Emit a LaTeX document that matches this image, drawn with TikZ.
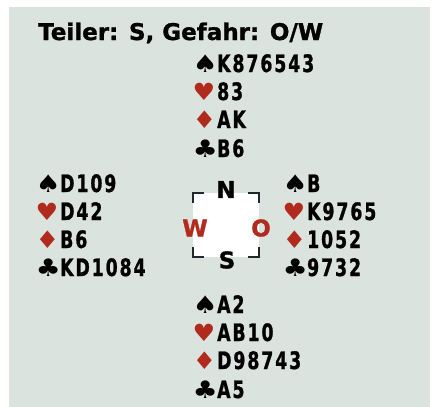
\documentclass[tikz,border=0pt]{standalone}
\usepackage{fontspec}
\setmainfont{DejaVu Sans}[BoldFeatures={FakeBold=1.2}]
\newfontfamily\cardfont{DejaVu Sans Condensed}[FakeStretch=0.8, LetterSpace=8, BoldFeatures={FakeBold=1.0}]
\newfontfamily\suitfont{DejaVu Sans}
\definecolor{bgcol}{RGB}{219,227,223}
\definecolor{suitred}{RGB}{176,42,30}
\definecolor{bracketcol}{RGB}{30,40,45}
\newcommand\suitbox[4]{\makebox[22pt][l]{\kern-2.5pt\scalebox{#3}[#4]{\suitfont\fontsize{22}{26}\selectfont\color{#1}#2}}}
\newcommand\SSp{\suitbox{black}{♠}{1.28}{1.1}}
\newcommand\SHe{\suitbox{suitred}{♥}{1.15}{1.08}}
\newcommand\SDi{\suitbox{suitred}{♦}{1.2}{1.1}}
\newcommand\SCl{\suitbox{black}{♣}{1.28}{1.1}}
\tikzset{
  card/.style={anchor=base west, inner sep=0pt, font=\cardfont\bfseries\fontsize{24}{28}\selectfont},
  compass/.style={inner sep=0pt, font=\bfseries\fontsize{23}{27}\selectfont},
  bracket/.style={draw=bracketcol, line width=1.8pt}
}
\begin{document}
\begin{tikzpicture}[x=1pt,y=-1pt]
\useasboundingbox (0,0) rectangle (440,407);
\fill[white] (0,0) rectangle (440,407);
\fill[bgcol] (9,7) rectangle (430,407);
\node[anchor=base west, inner sep=0pt, font=\bfseries\fontsize{23}{27}\selectfont] (title) at (38,40) {Teiler: S, Gefahr: O/W};
% North
\node[card] (n1) at (195,72) {\SSp K876543};
\node[card] (n2) at (195,100) {\SHe 83};
\node[card] (n3) at (195,128) {\SDi AK};
\node[card] (n4) at (195,157) {\SCl B6};
% West
\node[card] (w1) at (38,192) {\SSp D109};
\node[card] (w2) at (38,220) {\SHe D42};
\node[card] (w3) at (38,248) {\SDi B6};
\node[card] (w4) at (38,276) {\SCl KD1084};
% East
\node[card] (e1) at (285,192) {\SSp B};
\node[card] (e2) at (285,220) {\SHe K9765};
\node[card] (e3) at (285,248) {\SDi 1052};
\node[card] (e4) at (285,276) {\SCl 9732};
% South
\node[card] (s1) at (195,313) {\SSp A2};
\node[card] (s2) at (195,341) {\SHe AB10};
\node[card] (s3) at (195,369) {\SDi D98743};
\node[card] (s4) at (195,398) {\SCl A5};
% Compass
\fill[white] (193,193) rectangle (259,257);
\draw[bracket] (193,203) -- (193,193) -- (204,193);
\draw[bracket] (248,193) -- (259,193) -- (259,203);
\draw[bracket] (193,247) -- (193,257) -- (204,257);
\draw[bracket] (248,257) -- (259,257) -- (259,247);
\node[compass] (cN) at (226,189.5) {N};
\node[compass] (cS) at (227,260) {S};
\node[compass, text=suitred] (cW) at (195,228) {W};
\node[compass, text=suitred] (cO) at (261,228) {O};
\end{tikzpicture}
\end{document}
